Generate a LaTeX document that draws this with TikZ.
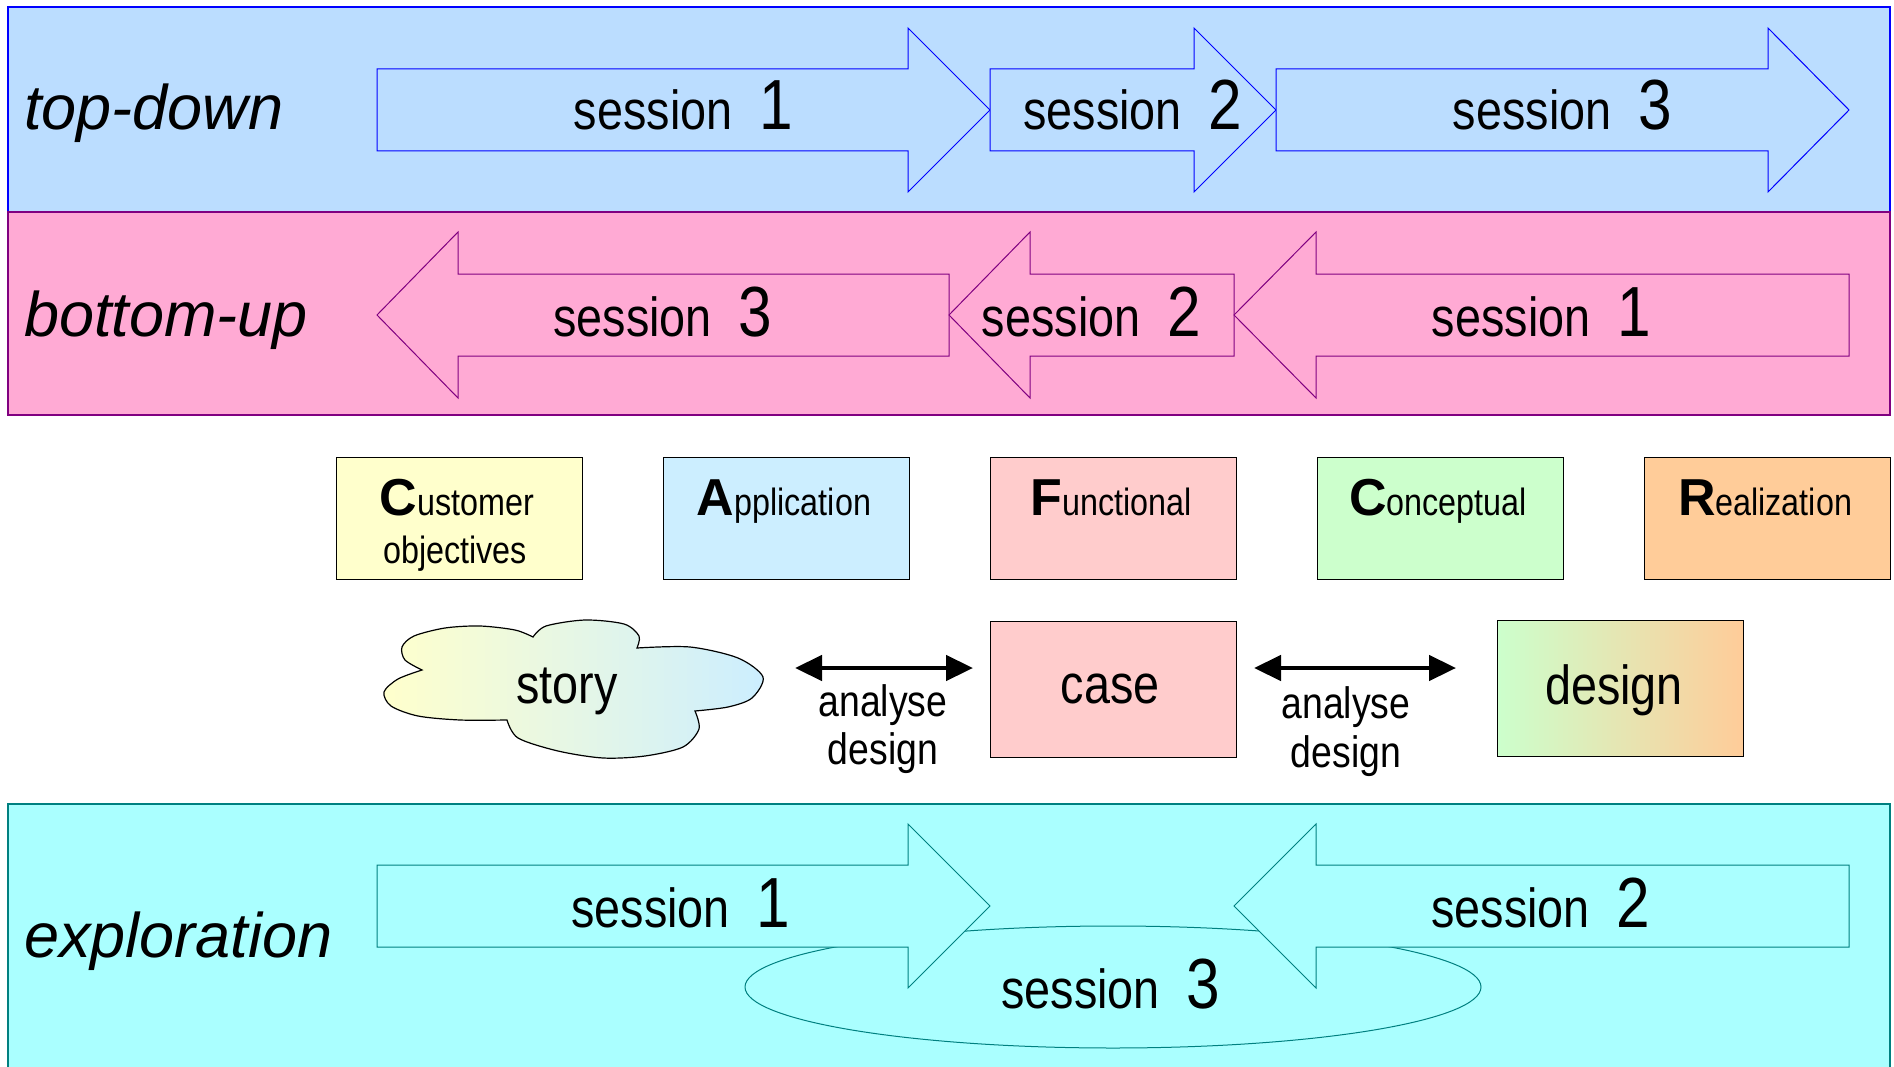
\documentclass[tikz,border=0pt]{standalone}
\usepackage{fontspec}
\setmainfont{Liberation Sans}
\newfontfamily\narrowsf[FakeStretch=0.85]{Liberation Sans}
\usetikzlibrary{arrows.meta}

\definecolor{tdfill}{HTML}{BBDDFF}
\definecolor{tdline}{HTML}{0000FF}
\definecolor{bufill}{HTML}{FFAAD4}
\definecolor{buline}{HTML}{800080}
\definecolor{exfill}{HTML}{AAFFFF}
\definecolor{exline}{HTML}{008080}
\definecolor{custc}{HTML}{FFFFCC}
\definecolor{applc}{HTML}{CCEEFF}
\definecolor{funcc}{HTML}{FFCCCC}
\definecolor{concc}{HTML}{CCFFCC}
\definecolor{realc}{HTML}{FFCC99}

\newcommand{\sessf}{\narrowsf\fontsize{55}{60}\selectfont}
\newcommand{\digitf}{\narrowsf\fontsize{71}{74}\selectfont}
\newcommand{\bandf}{\fontsize{63}{66}\selectfont\itshape}
\newcommand{\viewf}{\narrowsf\fontsize{38}{42}\selectfont}
\newcommand{\initf}{\fontsize{52}{56}\selectfont\bfseries}
\newcommand{\itemf}{\narrowsf\fontsize{55}{60}\selectfont}
\newcommand{\notef}{\narrowsf\fontsize{44}{48}\selectfont}
\newcommand{\sesstext}[1]{{\sessf session\hspace{27pt}{\digitf #1}}}
\newcommand{\viewtitle}[2]{{\initf #1}{\viewf #2}}

\begin{document}
\begin{tikzpicture}[x=1pt,y=-1pt,
  band/.style={line width=1.5pt},
  sessarrow/.style={line width=1pt, line join=miter},
  view/.style={draw=black, line width=1.2pt, minimum width=246pt, minimum height=122pt, inner sep=0pt, anchor=north west},
  txt/.style={inner sep=0pt, anchor=base},
  twoway/.style={{Triangle[length=27pt,width=25pt]}-{Triangle[length=27pt,width=25pt]}, line width=4.5pt}
]
\useasboundingbox (0,0) rectangle (1894,1067);

% the three bands
\draw[band, draw=tdline, fill=tdfill] (8,7) rectangle (1890,212);
\draw[band, draw=buline, fill=bufill] (8,212) rectangle (1890,415);
\draw[band, draw=exline, fill=exfill] (8,804) rectangle (1890,1080);

\node[txt, anchor=base west] (tdlabel) at (24,130) {\bandf top-down};
\node[txt, anchor=base west] (bulabel) at (24,336) {\bandf bottom-up};
\node[txt, anchor=base west] (exlabel) at (24,957) {\bandf exploration};

% top-down: sessions to the right
\foreach \xa/\xb/\xc/\n in {377/908/990/1, 990/1194/1276/2, 1276/1768/1849/3}{
  \draw[sessarrow, draw=tdline, fill=tdfill] (\xa,69) -- (\xb,69) -- (\xb,28) -- (\xc,110)
    -- (\xb,192) -- (\xb,151) -- (\xa,151) -- cycle;
  \node[txt] (td\n) at ({(\xa+\xc)/2},130) {\sesstext{\n}};
}

% bottom-up: sessions to the left
\foreach \xa/\xb/\xc/\n in {377/458/949/3, 949/1030/1234/2, 1234/1316/1849/1}{
  \draw[sessarrow, draw=buline, fill=bufill] (\xc,274) -- (\xb,274) -- (\xb,232) -- (\xa,315)
    -- (\xb,398) -- (\xb,356) -- (\xc,356) -- cycle;
  \node[txt] (bu\n) at ({(\xa+\xc)/2},336) {\sesstext{\n}};
}

% CAFCR views
\foreach \nm/\x/\c in {cust/336/custc, appl/663/applc, func/990/funcc, conc/1317/concc, real/1644/realc}
  \node[view, fill=\c] (\nm) at (\x,457) {};
\node[txt] (custname) at (457,515) {\viewtitle{C}{ustomer}};
\node[txt] (custobj) at (455,563) {\viewf objectives};
\node[txt] (applname) at (784,515) {\viewtitle{A}{pplication}};
\node[txt] (funcname) at (1111,515) {\viewtitle{F}{unctional}};
\node[txt] (concname) at (1438,515) {\viewtitle{C}{onceptual}};
\node[txt] (realname) at (1765,515) {\viewtitle{R}{ealization}};

% story, case, design
\draw[line width=1.2pt, left color=custc, right color=applc]
  plot[smooth] coordinates {(422,670) (405,660) (402,647) (414,636) (445,628) (480,626) (515,630) (533,637)}
  -- plot[smooth] coordinates {(533,637) (546,626) (585,620) (624,624) (639,636) (637,648)}
  -- plot[smooth] coordinates {(637,648) (690,647) (738,658) (763,677) (752,698) (728,707) (695,711)}
  -- plot[smooth] coordinates {(695,711) (699,729) (683,747) (645,756) (603,758) (558,751) (518,738) (507,720)}
  -- plot[smooth] coordinates {(507,720) (460,720) (418,716) (391,706) (384,692) (398,679) (422,670)}
  -- cycle;
\node[txt] (story) at (567,703) {\itemf story};

\node[view, fill=funcc, minimum height=136pt] (case) at (990,621) {};
\node[txt] (casetxt) at (1110,703) {\itemf case};
\node[view, left color=concc, right color=realc, minimum height=136pt] (design) at (1497,620) {};
\node[txt] (designtxt) at (1614,704) {\itemf design};

\coordinate (sc-a) at (795,668);
\coordinate (sc-b) at (973,668);
\coordinate (cd-a) at (1254,668);
\coordinate (cd-b) at (1456,668);
\draw[twoway] (sc-a) -- (sc-b);
\draw[twoway] (cd-a) -- (cd-b);
\node[txt] (sc-top) at (883,716) {\notef analyse};
\node[txt] (sc-bot) at (883,764) {\notef design};
\node[txt] (cd-top) at (1346,718) {\notef analyse};
\node[txt] (cd-bot) at (1346,767) {\notef design};

% exploration
\draw[sessarrow, draw=exline, fill=exfill] (1113,987) ellipse [x radius=368, y radius=61];
\draw[sessarrow, draw=exline, fill=exfill] (377,865) -- (908,865) -- (908,824) -- (990,906)
  -- (908,988) -- (908,947) -- (377,947) -- cycle;
\draw[sessarrow, draw=exline, fill=exfill] (1849,865) -- (1316,865) -- (1316,824) -- (1234,906)
  -- (1316,988) -- (1316,947) -- (1849,947) -- cycle;
\node[txt] (ex1) at (681,927) {\sesstext{1}};
\node[txt] (ex2) at (1541,927) {\sesstext{2}};
\node[txt] (ex3) at (1111,1008) {\sesstext{3}};
\end{tikzpicture}
\end{document}
